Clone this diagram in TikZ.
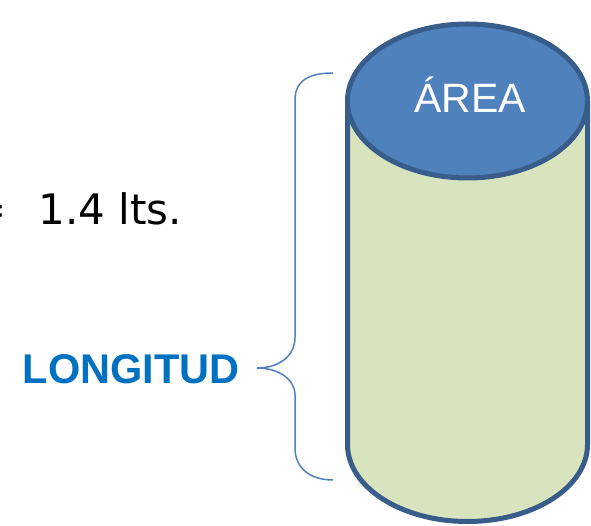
\documentclass[tikz,border=0pt]{standalone}
\usepackage{fontspec}
\setmainfont{Liberation Sans}
\newfontfamily\vera{DejaVu Sans}
\usepackage{xcolor}
\definecolor{cylgreen}{HTML}{D7E4BD}
\definecolor{cylblue}{HTML}{4F81BD}
\definecolor{cylborder}{HTML}{385D8A}
\definecolor{bracecol}{HTML}{4F81BD}
\definecolor{textblue}{HTML}{0070C0}
\tikzset{
    cylbody/.style={
        draw=cylborder,
        line width=5pt,
        line join=round,
        fill=cylgreen
    },
    cyltop/.style={
        draw=cylborder,
        line width=5pt,
        fill=cylblue
    },
    bracket/.style={
        draw=bracecol,
        line width=1.5pt
    },
    caption/.style={
        inner sep=0pt,
        anchor=base
    }
}

\begin{document}
\begin{tikzpicture}[x=1pt, y=1pt]
\useasboundingbox (0,0) rectangle (591,525);

% Cylinder body and lid
\draw[cylbody] (347.5,424) -- (347.5,80.5)
    arc[start angle=180, end angle=360, x radius=120, y radius=77] -- (587.5,424);
\draw[cyltop] (467.5,424) ellipse[x radius=120, y radius=77];
\node[caption, text=white, font=\fontsize{41}{49}\selectfont] (area) at (470,412) {ÁREA};

% Volume
\node[caption, anchor=base east, font=\vera\fontsize{42}{50}\selectfont] (eq) at (6.5,300) {=};
\node[caption, font=\vera\fontsize{42}{50}\selectfont] (litros) at (110.5,300) {1.4 lts.};

% Length brace
\coordinate (brtop) at (333,452);
\coordinate (brtip) at (257,157);
\coordinate (brbot) at (333,45);
\draw[bracket] (brtop) .. controls (310,452) and (295,445) .. (295,425)
    -- (295,188) .. controls (295,168) and (278,157) .. (brtip)
    .. controls (278,157) and (295,146) .. (295,130)
    -- (295,77) .. controls (295,57) and (310,45) .. (brbot);
\node[caption, text=textblue, font=\bfseries\fontsize{41.5}{50}\selectfont] (longitud) at (131,142) {LONGITUD};

\end{tikzpicture}
\end{document}
